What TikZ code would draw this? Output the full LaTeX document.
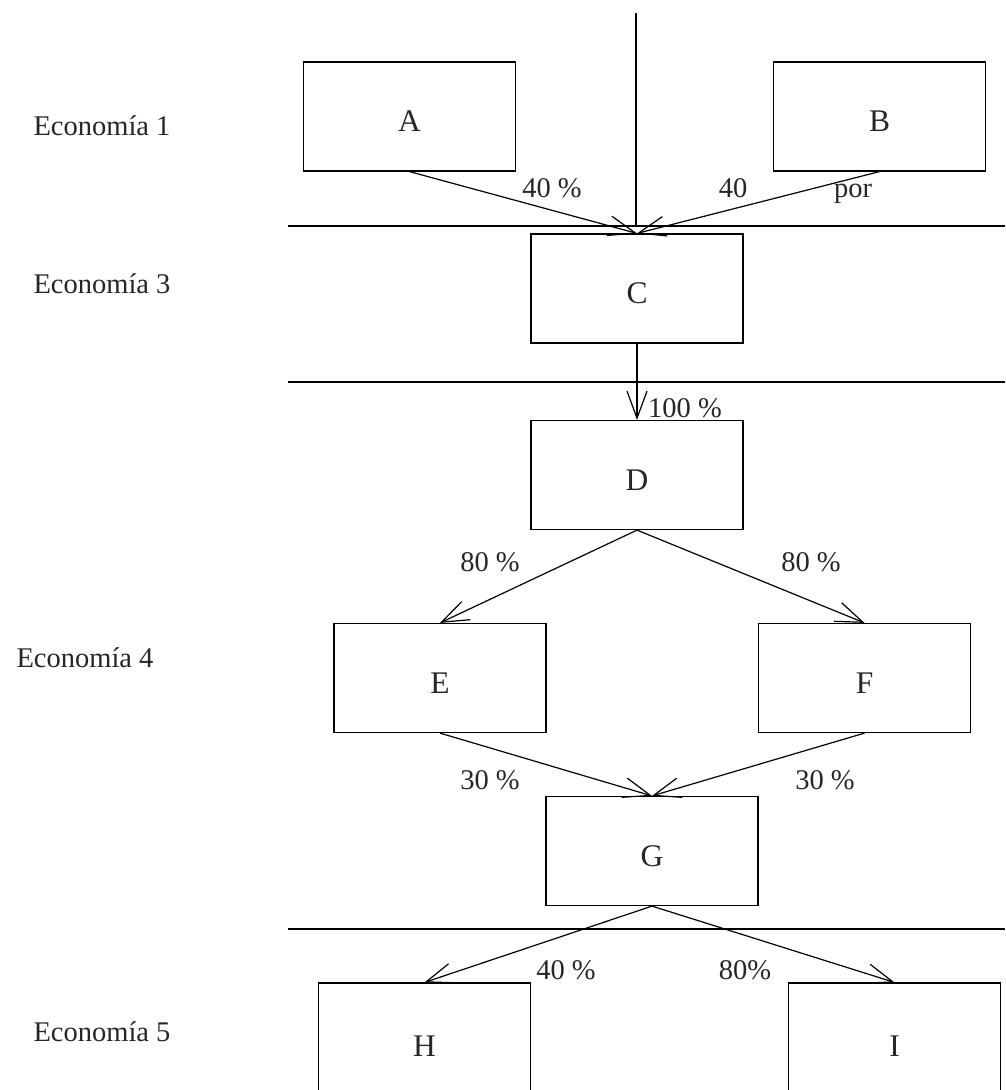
\documentclass[tikz,border=0pt]{standalone}
\usepackage{fontspec}
\setmainfont{Liberation Serif}
\usetikzlibrary{arrows.meta}
\begin{document}
\begin{tikzpicture}[x=1pt,y=-1pt,
  every node/.style={font=\fontsize{28.5}{34}\selectfont, text=black!85},
  unit/.style={draw, line width=1.2pt, inner sep=0pt, minimum width=212pt, minimum height=109pt,
    font=\fontsize{31.5}{36}\selectfont, text height=30pt, text depth=0pt},
  flow/.style={line width=1.2pt, -{Straight Barb[length=27pt,width=20pt,line width=1.2pt]}},
  sep/.style={line width=1.2pt},
  pct/.style={anchor=base},
  zone/.style={anchor=base west}]
\useasboundingbox (0,0) rectangle (1005,1090);
\clip (0,0) rectangle (1005,1090);

% band separators and the incoming flow from above
\coordinate (s1w) at (288,226);  \coordinate (s1e) at (1005,226);
\coordinate (s2w) at (288,382);  \coordinate (s2e) at (1005,382);
\coordinate (s3w) at (288,929);  \coordinate (s3e) at (1005,929);
\coordinate (intop) at (636,13); \coordinate (inbot) at (636,226);
\draw[sep] (s1w) -- (s1e);
\draw[sep] (s2w) -- (s2e);
\draw[sep] (s3w) -- (s3e);
\draw[sep] (intop) -- (inbot);

% units
\node[unit] (A) at (409.5,116.5) {A};
\node[unit] (B) at (879.5,116.5) {B};
\node[unit] (C) at (637,288.5) {C};
\node[unit] (D) at (637,475) {D};
\node[unit] (E) at (440,678) {E};
\node[unit] (F) at (864.5,678) {F};
\node[unit] (G) at (652,851) {G};
\node[unit, minimum height=117pt] (H) at (424.5,1041.5) {H};
\node[unit, minimum height=117pt] (I) at (894.5,1041.5) {I};

% flows
\draw[flow] (A.south) -- (C.north);
\draw[flow] (B.south) -- (C.north);
\draw[flow] (C.south) -- (D.north);
\draw[flow] (D.south) -- (E.north);
\draw[flow] (D.south) -- (F.north);
\draw[flow] (E.south) -- (G.north);
\draw[flow] (F.south) -- (G.north);
\draw[flow] (G.south) -- (H.north);
\draw[flow] (G.south) -- (I.north);

% shares
\node[pct] (pAC) at (552,197) {40 \%};
\node[pct] (pBC) at (733,197) {40};
\node[pct] (pBC2) at (853,197) {por};
\node[pct] (pCD) at (685,417) {100 \%};
\node[pct] (pDE) at (490,571) {80 \%};
\node[pct] (pDF) at (811,571) {80 \%};
\node[pct] (pEG) at (490,789) {30 \%};
\node[pct] (pFG) at (825,789) {30 \%};
\node[pct] (pGH) at (566,979) {40 \%};
\node[pct] (pGI) at (745,979) {80\%};

% economy labels
\node[zone] (e1) at (30,135) {Economía 1};
\node[zone] (e3) at (30,293) {Economía 3};
\node[zone] (e4) at (13,667) {Economía 4};
\node[zone] (e5) at (30,1041) {Economía 5};
\end{tikzpicture}
\end{document}
